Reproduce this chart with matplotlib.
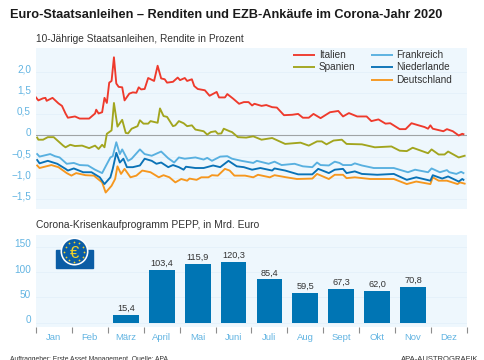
#!/usr/bin/env python3
"""Euro-Staatsanleihen: Renditen und EZB-Ankaeufe im Corona-Jahr 2020."""

import matplotlib
matplotlib.use("Agg")
import matplotlib.pyplot as plt
import numpy as np
from matplotlib.patches import Circle, Rectangle
from matplotlib.transforms import ScaledTranslation

plt.rcParams["font.family"] = ["Liberation Sans", "DejaVu Sans"]

W, H = 485, 360

MONTHS = ["Jan", "Feb", "März", "April", "Mai", "Juni", "Juli", "Aug", "Sept", "Okt", "Nov", "Dez"]
PEPP = [np.nan, np.nan, 15.4, 103.4, 115.9, 120.3, 85.4, 59.5, 67.3, 62.0, 70.8, np.nan]

YIELD_TICKS = [1.5, 1.0, 0.5, 0.0, -0.5, -1.0, -1.5]
YIELD_LABELS = ["2,0", "1,5", "0,5", "0", "−0,5", "−1,0", "−1,5"]
PEPP_TICKS = [0, 50, 100, 150]

# day of year / yield
it_days = [0, 2, 6, 8, 9, 14, 19, 22, 25, 27, 33, 37, 45, 50, 51, 53, 56, 58, 60, 62, 64, 66, 68, 70, 73,
           75, 79, 82, 85, 87, 89, 92, 95, 100, 103, 106, 109, 111, 116, 120, 122, 126, 128, 132, 134,
           137, 143, 147, 153, 155, 160, 162, 167, 172, 176, 180, 183, 185, 191, 195, 200, 204, 210,
           217, 222, 226, 231, 235, 241, 249, 256, 260, 265, 272, 280, 284, 290, 296, 300, 308, 313,
           318, 324, 329, 332, 334, 336, 345, 348, 353, 358, 361, 362]
it_vals = [.90, .83, .88, .89, .82, .89, .76, .70, .52, .42, .45, .40, .40, .52, .61, .52, .55, .89, .77,
           1.25, 1.29, 1.85, 1.23, 1.15, 1.14, .83, .99, 1.02, 1.01, 1.14, 1.09, 1.10, 1.36, 1.29, 1.65,
           1.35, 1.33, 1.25, 1.27, 1.37, 1.31, 1.36, 1.29, 1.33, 1.17, 1.10, 1.07, .94, 1.03, .90, .90,
           .98, .87, .75, .79, .79, .71, .75, .70, .72, .67, .66, .48, .49, .51, .42, .42, .51, .41, .55,
           .58, .45, .53, .45, .45, .34, .38, .28, .29, .15, .15, .29, .24, .20, .16, .24, .16, .10, .15,
           .10, 0, .04, .03]

es_days = [1, 2, 6, 10, 15, 19, 23, 25, 29, 33, 39, 45, 50, 53, 56, 58, 60, 64, 66, 69, 73, 76, 78, 81,
           86, 88, 91, 95, 97, 103, 105, 108, 111, 116, 118, 121, 125, 128, 132, 135, 142, 145, 148,
           152, 154, 157, 159, 164, 166, 171, 178, 184, 191, 200, 211, 224, 231, 238, 242, 246, 252,
           259, 263, 276, 287, 301, 308, 314, 319, 332, 335, 341, 346, 349, 358, 363]
es_vals = [-.05, -.10, -.10, -.04, -.04, -.14, -.24, -.28, -.22, -.25, -.24, -.30, -.24, -.32, -.22, -.28,
           .04, .12, .77, .21, .37, .06, .05, .16, .22, .36, .28, .28, .34, .30, .64, .46, .44, .22, .24,
           .34, .29, .22, .24, .14, .10, .02, .08, .10, .04, .05, .16, .10, .08, -.04, -.05, -.02, -.10,
           -.06, -.20, -.17, -.24, -.14, -.14, -.21, -.12, -.10, -.20, -.21, -.28, -.26, -.36, -.37, -.29,
           -.42, -.33, -.45, -.45, -.38, -.52, -.48]

fr_days = [1, 3, 12, 16, 20, 26, 32, 37, 44, 50, 56, 59, 63, 65, 68, 71, 73, 78, 81, 88, 92, 98, 106,
           112, 117, 121, 126, 135, 142, 145, 149, 156, 162, 166, 174, 184, 187, 197, 202, 208, 219,
           226, 234, 238, 241, 248, 253, 257, 260, 267, 270, 276, 286, 303, 315, 321, 332, 335, 342,
           348, 350, 356, 360, 362]
fr_vals = [-.44, -.50, -.44, -.49, -.52, -.67, -.65, -.70, -.71, -.81, -.89, -.73, -.52, -.49, -.16, -.44,
           -.33, -.60, -.55, -.33, -.44, -.48, -.38, -.54, -.64, -.52, -.55, -.52, -.57, -.53, -.60, -.50,
           -.49, -.55, -.60, -.65, -.60, -.67, -.62, -.70, -.67, -.73, -.75, -.64, -.70, -.71, -.62, -.65,
           -.70, -.70, -.66, -.71, -.77, -.77, -.87, -.81, -.87, -.78, -.87, -.82, -.87, -.91, -.86, -.89]

nl_days = [1, 3, 10, 18, 25, 27, 32, 40, 47, 54, 58, 63, 65, 68, 71, 74, 77, 82, 88, 92, 98, 102, 106,
           112, 116, 121, 125, 127, 135, 142, 150, 156, 163, 170, 176, 183, 190, 200, 202, 211, 222,
           234, 239, 248, 253, 260, 263, 270, 276, 289, 303, 314, 322, 334, 336, 344, 349, 358, 361, 362]
nl_vals = [-.58, -.66, -.60, -.67, -.79, -.83, -.78, -.87, -.87, -.99, -1.15, -.99, -.79, -.41, -.64, -.55,
           -.75, -.75, -.71, -.55, -.60, -.67, -.64, -.75, -.70, -.75, -.81, -.74, -.77, -.77, -.71, -.75,
           -.60, -.73, -.75, -.81, -.77, -.83, -.78, -.83, -.92, -.92, -.79, -.89, -.81, -.79, -.89, -.85,
           -.91, -.93, -.91, -1.05, -.99, -1.07, -.94, -1.02, -.97, -1.09, -1.03, -1.05]

de_days = [1, 3, 13, 19, 26, 30, 34, 42, 49, 56, 59, 64, 67, 69, 72, 75, 80, 85, 90, 97, 104, 108, 113,
           118, 123, 128, 130, 136, 140, 146, 149, 154, 160, 164, 168, 177, 184, 188, 198, 202, 212,
           221, 234, 238, 248, 253, 260, 263, 270, 283, 303, 314, 322, 334, 336, 341, 348, 357, 359, 363]
de_vals = [-.71, -.77, -.70, -.75, -.89, -.95, -.89, -.94, -.95, -1.11, -1.35, -1.19, -1.03, -.73, -.91,
           -.79, -.99, -.95, -.83, -.87, -.99, -.94, -.99, -1.11, -1.03, -1.07, -1.02, -1.05, -.99, -.99,
           -.94, -.95, -.79, -.83, -.95, -.95, -.99, -.93, -.99, -.94, -.99, -1.03, -1.02, -.91, -1.03,
           -.93, -.93, -1.01, -.99, -1.03, -1.03, -1.15, -1.09, -1.15, -.99, -1.07, -1.07, -1.15, -1.11, -1.14]

PANEL = "#EEF7FD"
GRID = "#E4F1FA"
TICK_BLUE = "#62B4E2"
TEXT = "#333333"
RED = "#EE3A2C"
OLIVE = "#A2A51E"
LIGHT = "#58B0E0"
BLUE = "#0A72B6"
ORANGE = "#F6971E"
BAR = "#0075B4"
LOGO = "#0B5DA5"


def px_axes(fig, left, top, right, bottom):
    """Axes placed by pixel box, origin top left."""
    return fig.add_axes([left / W, 1 - bottom / H, (right - left) / W, (bottom - top) / H])


def style_panel(ax):
    ax.set_facecolor(PANEL)
    for s in ax.spines.values():
        s.set_visible(False)
    ax.grid(True, axis="y", color=GRID, linewidth=0.6)
    ax.set_axisbelow(True)
    ax.tick_params(axis="y", length=0, pad=3.6, labelsize=7.2, labelcolor=TICK_BLUE)
    # the labels sit a little above their grid lines
    shift = ScaledTranslation(0, 3.5 / 100, ax.figure.dpi_scale_trans)
    for lab in ax.get_yticklabels():
        lab.set_transform(lab.get_transform() + shift)


def plot_yields(ax):
    ax.set_xlim(0, 365)
    ax.set_ylim(-1.74, 2.07)
    ax.set_xticks([])
    ax.set_yticks(YIELD_TICKS, YIELD_LABELS)
    style_panel(ax)
    ax.axhline(0, color="#A0A4A6", linewidth=0.8, zorder=1.5)
    ax.plot(de_days, de_vals, color=ORANGE, linewidth=1.35, zorder=2)
    ax.plot(nl_days, nl_vals, color=BLUE, linewidth=1.35, zorder=3)
    ax.plot(fr_days, fr_vals, color=LIGHT, linewidth=1.35, zorder=4)
    ax.plot(es_days, es_vals, color=OLIVE, linewidth=1.35, zorder=5)
    ax.plot(it_days, it_vals, color=RED, linewidth=1.35, zorder=6)


def plot_pepp(ax):
    pos = np.arange(12) + 0.5
    ax.bar(pos, PEPP, width=0.72, color=BAR)
    for x, v in zip(pos, PEPP):
        if not np.isnan(v):
            ax.text(x, v + 4, f"{v:.1f}".replace(".", ","), ha="center", va="bottom",
                    fontsize=6.6, color=TEXT)
    ax.set_xlim(0, 12)
    ax.set_ylim(-8.5, 173)
    ax.set_yticks(PEPP_TICKS)
    style_panel(ax)
    ax.set_xticks(np.arange(13))
    ax.set_xticklabels([])
    ax.set_xticks(pos, MONTHS, minor=True)
    ax.tick_params(axis="x", which="major", length=4.3, width=0.8, color="#8C8C8C")
    ax.tick_params(axis="x", which="minor", length=0, pad=4.2, labelsize=6.8, labelcolor=TICK_BLUE)


def draw_logo(ov):
    """ECB box with euro coin."""
    ov.add_patch(Rectangle((56, 249.5), 37, 18.5, color=LOGO, zorder=2))
    ov.add_patch(Circle((74.5, 251.5), 14, facecolor="white", edgecolor="none", zorder=3))
    ov.add_patch(Circle((74.5, 251.5), 12.4, facecolor=LOGO, edgecolor="none", zorder=4))
    ang = np.deg2rad(np.arange(0, 360, 30))
    ov.scatter(74.5 + 10 * np.cos(ang), 251.5 + 10 * np.sin(ang), s=1.6, color="#F5D327", linewidths=0, zorder=5)
    ov.text(74.5, 251.5, "€", ha="center", va="center_baseline", fontsize=12, color="#F5D327", zorder=6)


def draw_legend(ov):
    entries = [
        (293, 315, 319, 54.5, RED, "Italien"),
        (293, 315, 319, 67.3, OLIVE, "Spanien"),
        (371, 393, 396.5, 54.5, LIGHT, "Frankreich"),
        (371, 393, 396.5, 67.3, BLUE, "Niederlande"),
        (371, 393, 396.5, 80, ORANGE, "Deutschland"),
    ]
    for x0, x1, tx, y, color, name in entries:
        ov.plot([x0, x1], [y, y], color=color, linewidth=1.35, solid_capstyle="butt")
        ov.text(tx, y, name, ha="left", va="center", fontsize=7.2, color=TEXT)


def main():
    fig = plt.figure(figsize=(W / 100, H / 100), dpi=100)

    plot_yields(px_axes(fig, 36, 48, 467, 209))
    plot_pepp(px_axes(fig, 36, 235, 467, 327))

    ov = fig.add_axes([0, 0, 1, 1], facecolor="none")
    ov.set_xlim(0, W)
    ov.set_ylim(H, 0)
    ov.axis("off")
    draw_logo(ov)
    draw_legend(ov)

    ov.text(10, 15, "Euro-Staatsanleihen – Renditen und EZB-Ankäufe im Corona-Jahr 2020",
            fontsize=9.17, fontweight="bold", color="#1A1A1A", va="center")
    ov.text(36, 38.5, "10-Jährige Staatsanleihen, Rendite in Prozent", fontsize=7.3, color=TEXT, va="center")
    ov.text(36, 224.5, "Corona-Krisenkaufprogramm PEPP, in Mrd. Euro", fontsize=7.35, color=TEXT, va="center")
    ov.text(10, 359.5, "Auftraggeber: Erste Asset Management, Quelle: APA", fontsize=4.9, color=TEXT, va="center")
    ov.text(478, 359.5, "APA-AUSTROGRAFIK", fontsize=5.5, color=TEXT, va="center", ha="right")

    fig.savefig("out.png", dpi=100)
    plt.close(fig)


if __name__ == "__main__":
    main()
